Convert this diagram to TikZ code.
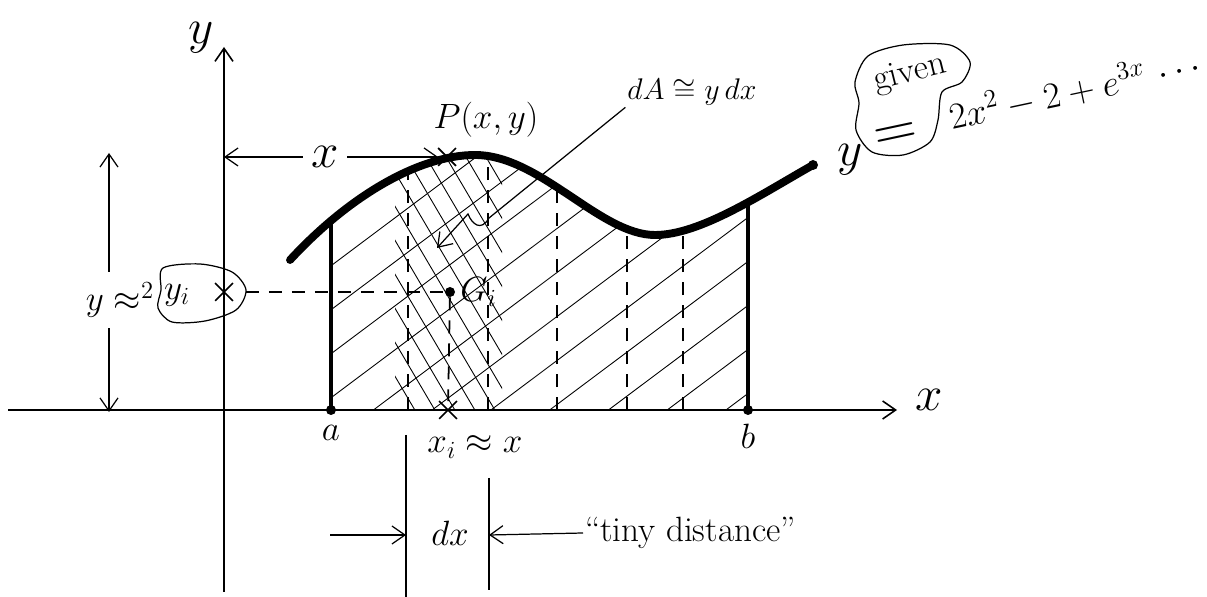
\RequirePackage{fix-cm}
\documentclass[tikz,border=0pt]{standalone}
\usepackage{tikz}
\usetikzlibrary{positioning,calc,arrows.meta,shapes.misc}

\begin{document}
\begin{tikzpicture}[x=0.02cm,y=-0.02cm,
    >={Straight Barb[length=2.6mm,width=3.6mm]},
    lbl/.style={inner sep=1pt,font=\fontsize{20}{24}\selectfont},
    smalllbl/.style={inner sep=1pt,font=\fontsize{17}{20}\selectfont},
    biglbl/.style={inner sep=1pt,font=\fontsize{28}{32}\selectfont},
    axis/.style={line width=0.9pt},
    thinline/.style={line width=0.7pt},
    edge/.style={line width=1.8pt},
    curve/.style={line width=4.5pt,line cap=round},
    dashline/.style={line width=1pt,dash pattern=on 2.6mm off 2mm},
    hatch/.style={line width=0.5pt},
    dot/.style={circle,fill,inner sep=0pt,minimum size=2mm},
    xmark/.style={cross out,draw,line width=1pt,minimum size=3.2mm,inner sep=0pt}]
  \useasboundingbox (0,0) rectangle (1207,597);

  % hatched area under the curve
  \begin{scope}
    \clip (331,100) rectangle (748,410);
    \clip (290,260) .. controls (350,195) and (420,155) .. (475,155)
      .. controls (540,155) and (600,235) .. (655,235)
      .. controls (700,235) and (760,195) .. (813,165) -- (813,410) -- (290,410) -- cycle;
    \foreach \c in {230,274,...,740}
      \draw[hatch] (320,\c) -- ++(450,-337);
    \begin{scope}
      \clip (395,140) rectangle (502,412);
      \foreach \s in {236,256,...,500}
        \draw[hatch] (\s,140) -- ++(170,289);
    \end{scope}
  \end{scope}

  % axes
  \coordinate (xstart) at (8,410);
  \coordinate (xend) at (897,410);
  \coordinate (ystart) at (224,592);
  \coordinate (yend) at (224,47);
  \draw[axis,->] (xstart) -- (xend);
  \draw[axis,->] (ystart) -- (yend);
  \node[biglbl,right=3.3mm of xend,yshift=2mm] (xlbl) {$x$};
  \node[biglbl] (ylbl) at (201,38) {$y$};

  % the curve
  \draw[curve] (290,260) .. controls (350,195) and (420,155) .. (475,155)
    .. controls (540,155) and (600,235) .. (655,235)
    .. controls (700,235) and (760,195) .. (813,165);
  \node[dot] (cend) at (813,165) {};

  % limits a and b
  \node[dot] (a) at (331,410) {};
  \node[dot] (b) at (748,410) {};
  \coordinate (atop) at (331,223);
  \coordinate (btop) at (748,201);
  \draw[edge] (a.center) -- (atop);
  \draw[edge] (b.center) -- (btop);
  \node[lbl,below=1.5mm of a] (albl) {$a$};
  \node[lbl,below=1.4mm of b] (blbl) {$b$};

  % strips
  \foreach \x/\t in {408/172,488/157,557/190,627/225,683/233}
    \draw[dashline] (\x,410) -- (\x,\t);

  % point P
  \node[xmark] (P) at (447,157) {};
  \node[lbl] (Plbl) at (486,120) {$P(x,y)$};
  \node[biglbl,inner xsep=1.6mm] (xdim) at (325,157) {$x$};
  \coordinate (yx) at (224,157);
  \draw[thinline,->] (xdim) -- (yx);
  \draw[thinline,->] (xdim) -- (P);

  % point G_i
  \node[dot] (G) at (450,292) {};
  \node[lbl,right=0.6mm of G] (Glbl) {$G_i$};
  \node[xmark] (xi) at (448,410) {};
  \node[lbl] (xilbl) at (475,447) {$x_i\approx x$};
  \draw[dashline] (G) -- (xi);

  % y_i on the y axis
  \node[xmark] (ym) at (224,292) {};
  \node[lbl] (yi) at (177,295) {$y_i$};
  \draw[thinline] plot[smooth cycle] coordinates {(163,268) (200,264) (232,272) (246,290) (236,310) (205,321) (172,322) (158,308) (161,290)};
  \coordinate (blobr) at (246,292);
  \draw[dashline] (blobr) -- (G);
  \node[lbl,inner ysep=2mm] (yapprox) at (120,300) {$y\approx^{2}$};
  \coordinate (yt) at (109,153);
  \coordinate (yb) at (109,412);
  \draw[thinline,->] (yt |- yapprox.north) -- (yt);
  \draw[thinline,->] (yb |- yapprox.south) -- (yb);

  % dx
  \draw[thinline] (406,435) -- (406,597);
  \draw[thinline] (489,478) -- (489,590);
  \coordinate (dxs) at (330,535);
  \coordinate (dxl) at (406,535);
  \coordinate (dxr) at (489,535);
  \node[lbl] (dx) at (450,533) {$dx$};
  \node[lbl,anchor=west] (tiny) at (583,533) {``tiny distance''};
  \draw[thinline,->] (dxs) -- (dxl);
  \draw[thinline,->] (tiny.west) -- (dxr);

  % dA
  \node[smalllbl] (dA) at (692,92) {$dA\cong y\,dx$};
  \coordinate (lead1) at (489,218);
  \coordinate (lead2) at (468,214);
  \coordinate (strip) at (437,248);
  \draw[thinline,->] (dA.south west) -- (lead1) .. controls (481,232) and (472,224) .. (lead2) -- (strip);

  % the function
  \node[biglbl] (fy) at (850,160) {$y$};
  \draw[thinline] plot[smooth cycle] coordinates {(903,45) (950,45) (970,62) (962,82) (942,92) (938,120) (930,142) (903,155) (872,152) (856,130) (859,103) (855,82) (868,56)};
  \node[lbl,rotate=14] (given) at (910,74) {given};
  \node[rotate=12,font=\fontsize{34}{36}\selectfont] (eq) at (896,137) {$=$};
  \node[font=\fontsize{21}{25}\selectfont,inner sep=1pt,rotate=12,anchor=base west] (rhs) at (950,130) {$2x^2-2+e^{3x}\,\cdots$};
\end{tikzpicture}
\end{document}
